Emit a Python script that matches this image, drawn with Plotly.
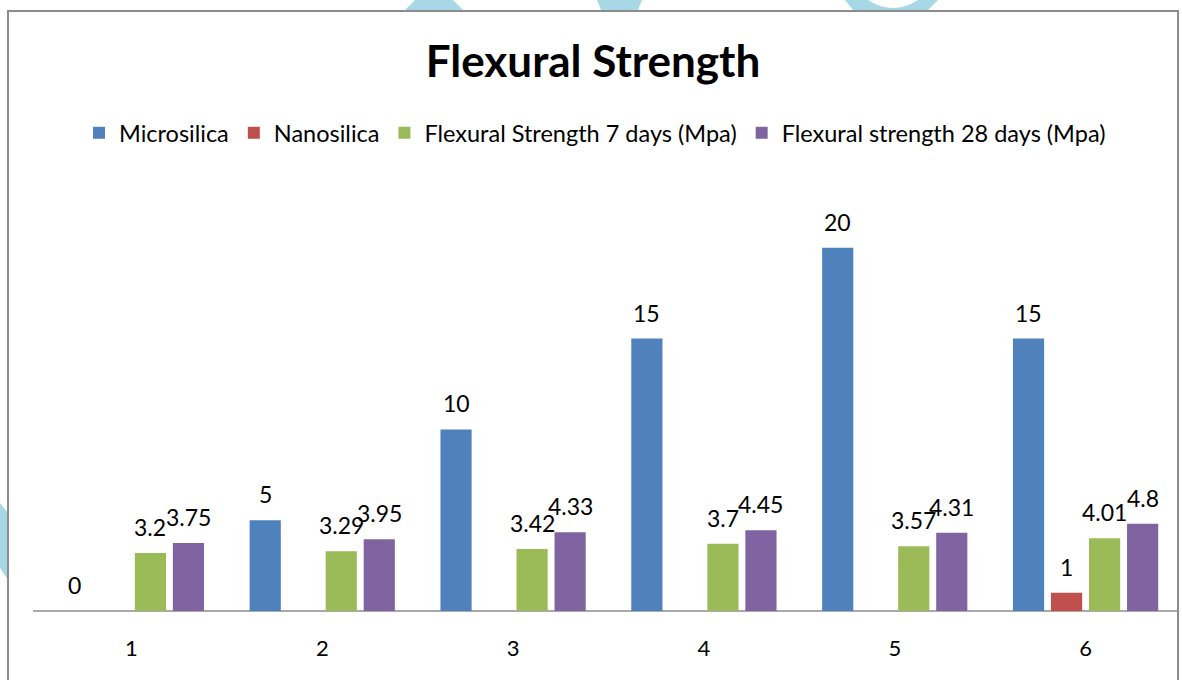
import plotly.graph_objects as go

categories = ["1", "2", "3", "4", "5", "6"]
microsilica = [0, 5, 10, 15, 20, 15]
nanosilica = [None, None, None, None, None, 1]
flex7 = [3.2, 3.29, 3.42, 3.7, 3.57, 4.01]
flex28 = [3.75, 3.95, 4.33, 4.45, 4.31, 4.8]

series_names = ["Microsilica", "Nanosilica", "Flexural Strength 7 days (Mpa)", "Flexural strength 28 days (Mpa)"]
colors = ["#4F81BD", "#C0504D", "#9BBB59", "#8064A2"]

W, H = 1182, 680
L, R, T, B = 36, 1, 157, 69
PW = W - L - R
PH = H - T - B

def px(x):
    return (x - L) / PW

def py(y):
    return (H - B - y) / PH

FONT = "Lato, Carlito, Calibri, sans-serif"

fig = go.Figure()
all_series = [microsilica, nanosilica, flex7, flex28]
annotations = []
slot = PW / len(categories) * (1 - 0.203) / len(all_series)
for k, (name, vals, col) in enumerate(zip(series_names, all_series, colors)):
    fig.add_trace(go.Bar(
        x=categories, y=vals, name=name,
        marker=dict(color=col, line=dict(width=0)),
    ))
    offset = (k - (len(all_series) - 1) / 2) * slot
    for i, v in enumerate(vals):
        if v is None:
            continue
        annotations.append(dict(
            x=i, y=v, xref="x", yref="y", text=f"{v:g}", showarrow=False,
            xshift=offset, yshift=26, xanchor="center", yanchor="middle",
            font=dict(size=23, color="#000000", family=FONT),
        ))

shapes = []
# watermark fragments
wm = "#A8D8E6"
shapes.append(dict(type="path", xref="paper", yref="paper", layer="below",
                   path=f"M {px(405)} {py(10)} L {px(415)} {py(0)} L {px(453)} {py(0)} L {px(463)} {py(10)} Z",
                   fillcolor=wm, line=dict(width=0)))
shapes.append(dict(type="path", xref="paper", yref="paper", layer="below",
                   path=f"M {px(597)} {py(0)} L {px(642)} {py(0)} L {px(638)} {py(10)} L {px(601)} {py(10)} Z",
                   fillcolor=wm, line=dict(width=0)))
shapes.append(dict(type="path", xref="paper", yref="paper", layer="below",
                   path=f"M {px(845)} {py(0)} L {px(938)} {py(0)} L {px(928)} {py(10)} L {px(853)} {py(10)} Z",
                   fillcolor=wm, line=dict(width=0)))
shapes.append(dict(type="path", xref="paper", yref="paper", layer="below",
                   path=f"M {px(868)} {py(0)} Q {px(893)} {py(16)} {px(918)} {py(0)} Z",
                   fillcolor="white", line=dict(width=0)))
shapes.append(dict(type="path", xref="paper", yref="paper", layer="below",
                   path=f"M {px(0)} {py(503)} L {px(8)} {py(513)} L {px(8)} {py(580)} L {px(0)} {py(568)} Z",
                   fillcolor=wm, line=dict(width=0)))
# chart border
shapes.append(dict(type="rect", xref="paper", yref="paper", layer="below",
                   x0=px(8), x1=px(1178), y0=py(700), y1=py(11),
                   line=dict(color="#8C8C8C", width=2), fillcolor="rgba(0,0,0,0)"))
# category axis line
shapes.append(dict(type="line", xref="paper", yref="paper", layer="below",
                   x0=px(33), x1=px(1178), y0=0, y1=0,
                   line=dict(color="#8C8C8C", width=1.5)))

fig.update_layout(
    width=W, height=H,
    margin=dict(l=L, r=R, t=T, b=B, pad=0),
    paper_bgcolor="white", plot_bgcolor="white",
    barmode="group", bargap=0.203, bargroupgap=0.18,
    font=dict(family=FONT, size=20, color="#000000"),
    title=dict(text="<b>Flexural Strength</b>", x=593 / W, xanchor="center",
               y=1 - 62 / H, yanchor="middle", font=dict(size=44, family=FONT, color="#000000")),
    legend=dict(orientation="h", x=px(595), xanchor="center", y=py(133), yanchor="middle",
                font=dict(size=23.5, family=FONT, color="#000000"),
                itemsizing="constant", traceorder="normal", itemwidth=30,
                bgcolor="rgba(0,0,0,0)"),
    xaxis=dict(type="category", range=[-0.5, len(categories) - 0.5], autorange=False,
               showline=False, showgrid=False, ticks="", tickfont=dict(size=22, family=FONT),
               ticklabelstandoff=22, fixedrange=True),
    yaxis=dict(range=[0, 25], autorange=False, visible=False, showgrid=False, zeroline=False),
    annotations=annotations,
    shapes=shapes,
)

fig.write_html("out.html")
